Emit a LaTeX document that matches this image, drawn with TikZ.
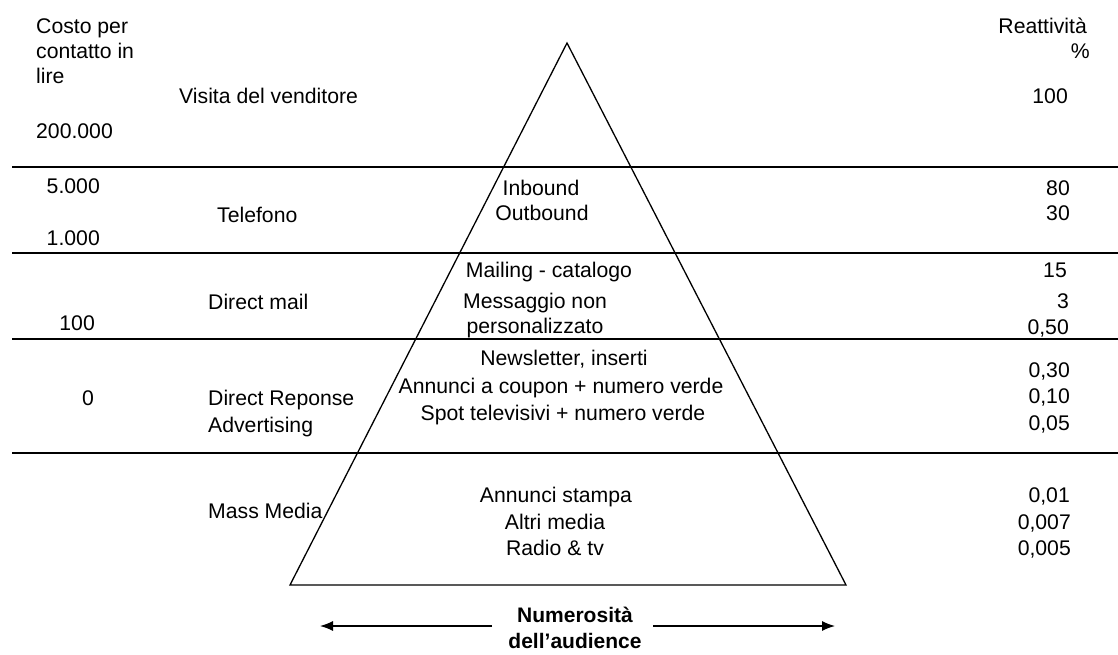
\documentclass[tikz,border=0pt]{standalone}
\usepackage{fontspec}
\setmainfont{Liberation Sans}
\usetikzlibrary{arrows.meta}
\begin{document}
\begin{tikzpicture}[x=1pt,y=-1pt,
  lbl/.style={inner sep=0pt, font=\fontsize{21.2}{25}\selectfont},
  lw/.style={lbl, anchor=base west},
  lc/.style={lbl, anchor=base},
  le/.style={lbl, anchor=base east},
  boldlbl/.style={inner sep=0pt, anchor=base, font=\fontsize{21}{25}\selectfont\bfseries},
  rule/.style={line width=1.4pt},
  edge/.style={line width=1.3pt, line join=miter},
  audarrow/.style={line width=1.3pt, -{Latex[length=13pt,width=10pt]}}]
\useasboundingbox (0,0) rectangle (1118,654);

% pyramid
\coordinate (apex) at (567,43);
\coordinate (bl) at (290,585);
\coordinate (br) at (846,585);
\draw[edge] (apex) -- (br) -- (bl) -- cycle;

% horizontal separators between the levels
\foreach \yy in {167,253,339,453}
  \draw[rule] (12,\yy) -- (1118,\yy);

% column headings
\node[lw] (costA) at (36,33) {Costo per};
\node[lw] (costB) at (36,58) {contatto in};
\node[lw] (costC) at (36,83) {lire};
\node[le] (reatA) at (1087,33) {Reattività};
\node[le] (reatB) at (1090,58) {\%};

% level 1
\node[lw] (visita) at (179,103) {Visita del venditore};
\node[lw] (c200) at (36,138) {200.000};
\node[le] (r100) at (1068,103) {100};

% level 2
\node[le] (c5000) at (100,193) {5.000};
\node[le] (c1000) at (100,245) {1.000};
\node[lw] (tel) at (217,222) {Telefono};
\node[lc] (inb) at (541,195) {Inbound};
\node[lc] (outb) at (542,220) {Outbound};
\node[le] (r80) at (1070,195) {80};
\node[le] (r30) at (1070,220) {30};

% level 3
\node[le] (c100) at (95,330) {100};
\node[lw] (dmail) at (208,309) {Direct mail};
\node[lc] (mail) at (549,277) {Mailing - catalogo};
\node[lc] (messA) at (535,308) {Messaggio non};
\node[lc] (messB) at (535,333) {personalizzato};
\node[le] (r15) at (1067,277) {15};
\node[le] (r3) at (1069,308) {3};
\node[le] (r050) at (1069,334) {0,50};

% level 4
\node[le] (c0) at (94,405) {0};
\node[lw] (drA) at (208,405) {Direct Reponse};
\node[lw] (drB) at (208,432) {Advertising};
\node[lc] (news) at (564,365) {Newsletter, inserti};
\node[lc] (coup) at (561,393) {Annunci a coupon + numero verde};
\node[lc] (spot) at (563,420) {Spot televisivi + numero verde};
\node[le] (r030) at (1070,377) {0,30};
\node[le] (r010) at (1070,403) {0,10};
\node[le] (r005) at (1070,430) {0,05};

% level 5
\node[lw] (mass) at (208,518) {Mass Media};
\node[lc] (stampa) at (556,502) {Annunci stampa};
\node[lc] (altri) at (555,529) {Altri media};
\node[lc] (radio) at (555,555) {Radio \& tv};
\node[le] (r001) at (1070,502) {0,01};
\node[le] (r0007) at (1071,529) {0,007};
\node[le] (r0005) at (1071,555) {0,005};

% audience size
\node[boldlbl] (audA) at (575,622) {Numerosità};
\node[boldlbl] (audB) at (575,648) {dell’audience};
\coordinate (arrLs) at (492,626);
\coordinate (arrLe) at (320,626);
\coordinate (arrRs) at (653,626);
\coordinate (arrRe) at (835,626);
\draw[audarrow] (arrLs) -- (arrLe);
\draw[audarrow] (arrRs) -- (arrRe);
\end{tikzpicture}
\end{document}
